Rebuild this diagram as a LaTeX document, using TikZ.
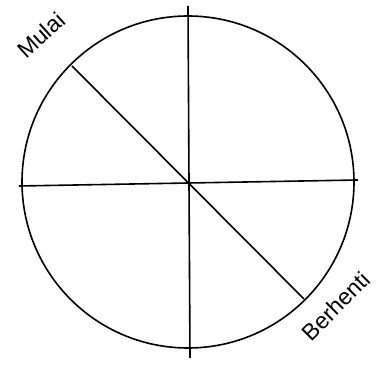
\documentclass[tikz,border=0pt]{standalone}
\usepackage{fontspec}
\setmainfont{Liberation Sans}
\begin{document}
\begin{tikzpicture}[x=1pt, y=-1pt, line width=1.6pt]
                \useasboundingbox (0,0) rectangle (376,374);
                % Centre and circle
                \coordinate (o) at (188,182);
                \draw (o) circle (166);
                % Axes
                \coordinate (top) at (188,6);
                \coordinate (bottom) at (190,358);
                \coordinate (left) at (19,186);
                \coordinate (right) at (358,180);
                \draw (top) -- (bottom);
                \draw (left) -- (right);
                % Diameter from start to stop
                \coordinate (start) at (72,66);
                \coordinate (stop) at (304,299);
                \draw (start) -- (stop);
                % Labels
                \node[rotate=42, inner sep=0pt, font=\fontsize{23}{23}\selectfont] (mulai) at (41,35) {Mulai};
                \node[rotate=45, inner sep=0pt, font=\fontsize{23}{23}\selectfont] (berhenti) at (336,306) {Berhenti};
            \end{tikzpicture}
\end{document}
